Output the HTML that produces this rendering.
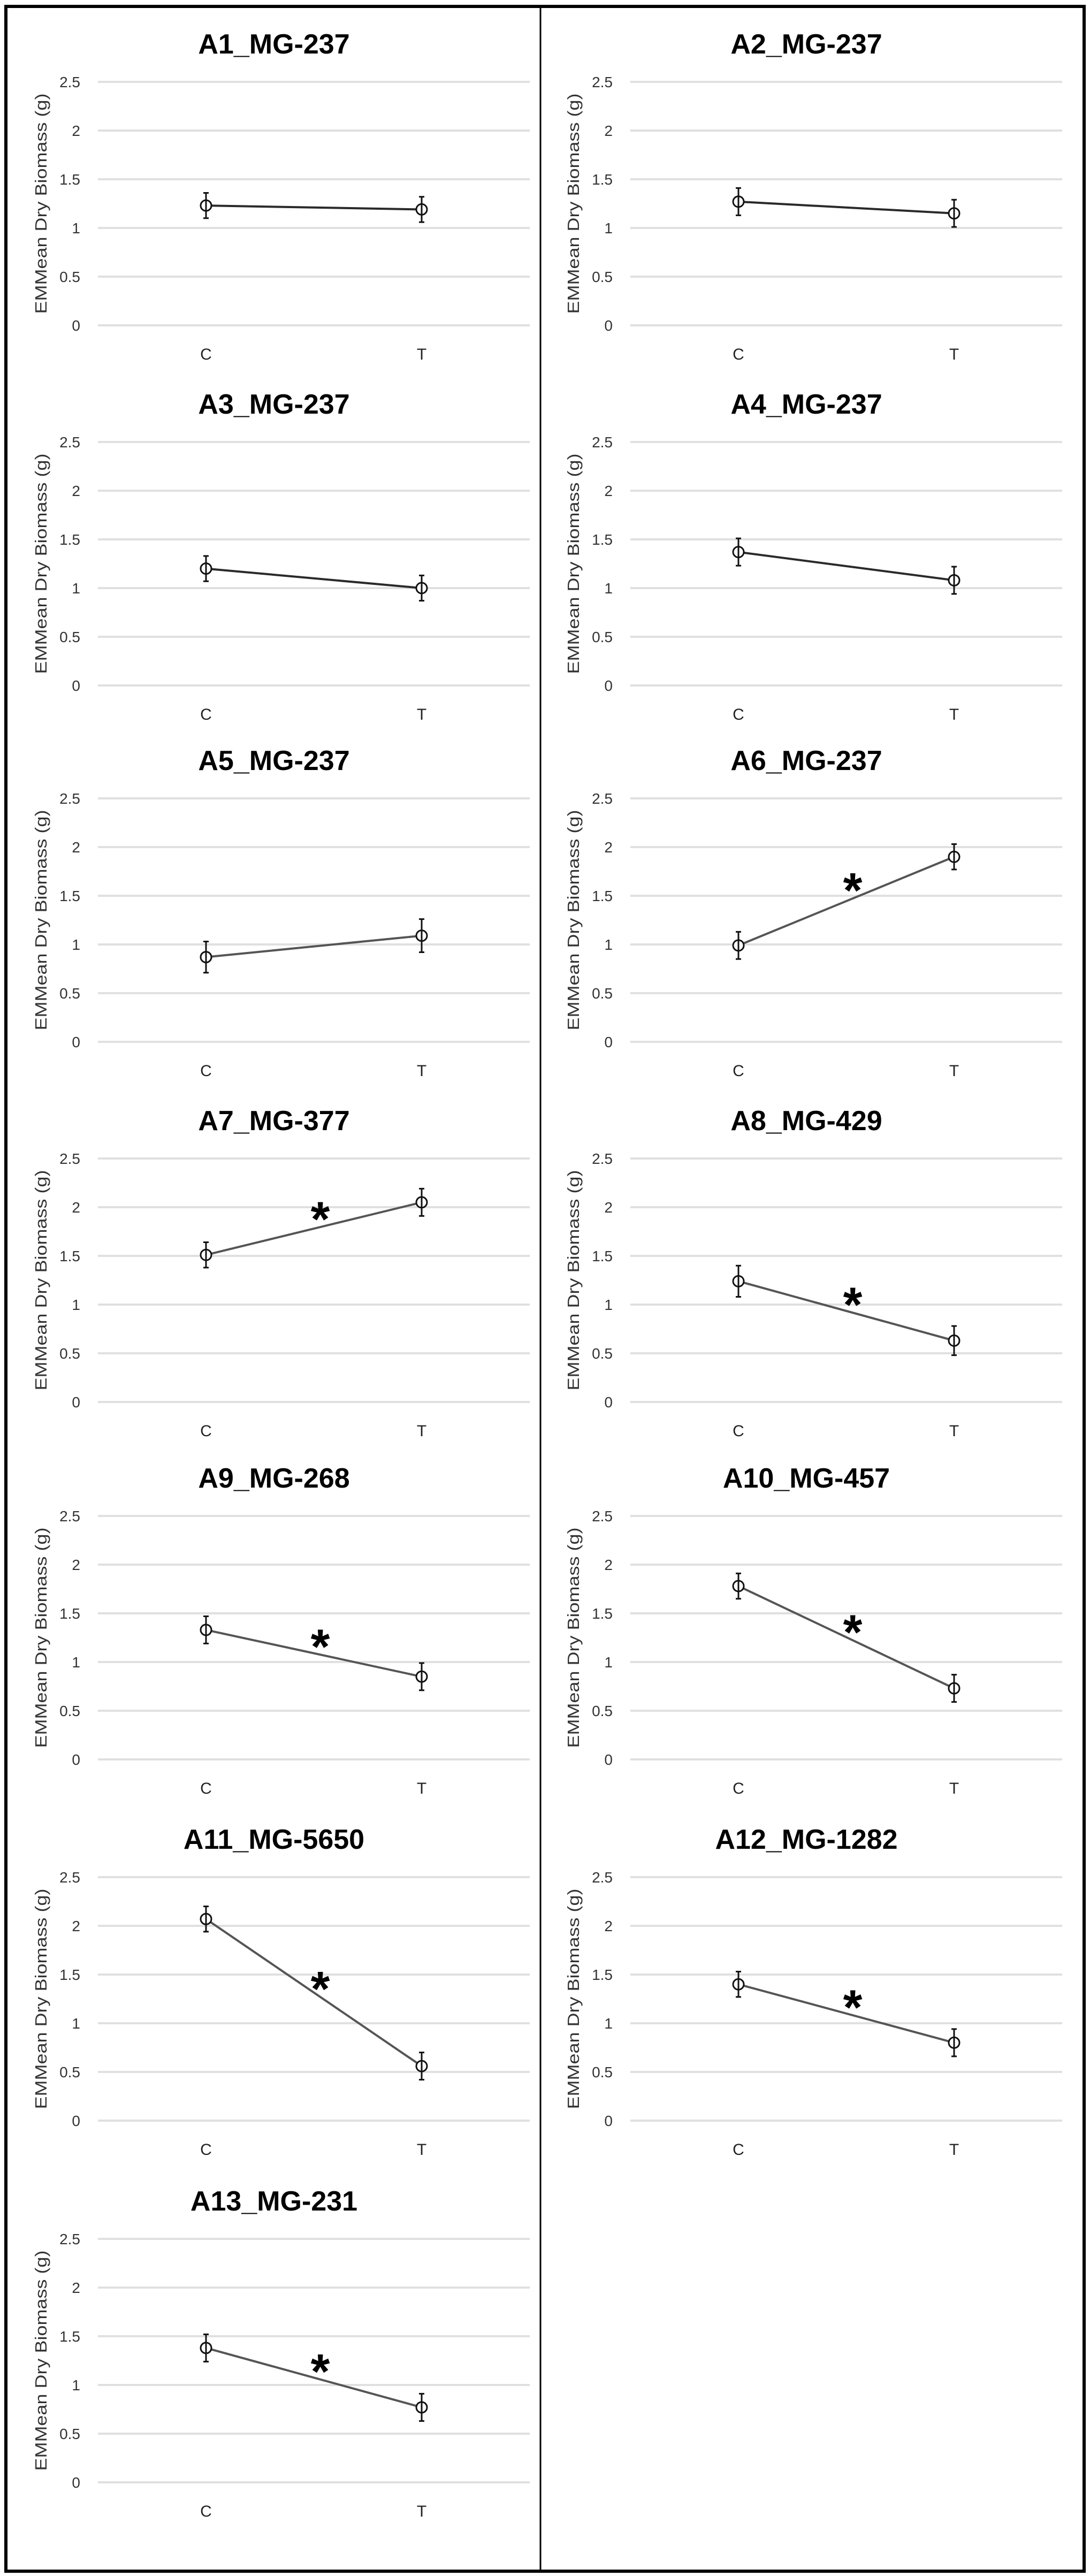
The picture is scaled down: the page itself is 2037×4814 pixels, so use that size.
<!DOCTYPE html>
<html><head><meta charset="utf-8"><style>
html,body{margin:0;padding:0;background:#fff;}
svg{display:block;}
</style></head><body>
<svg id="fig" width="2037" height="4814" viewBox="0 0 2037 4814" xmlns="http://www.w3.org/2000/svg" font-family="'Liberation Sans', sans-serif">
<rect x="11" y="12" width="2015" height="4793" fill="#fff" stroke="#000" stroke-width="6"/>
<line x1="1010" y1="12" x2="1010" y2="4805" stroke="#000" stroke-width="3"/>
<g id="panels"></g>
</svg>
<script>
const titles = ["A1_MG-237","A2_MG-237","A3_MG-237","A4_MG-237","A5_MG-237","A6_MG-237","A7_MG-377","A8_MG-429","A9_MG-268","A10_MG-457","A11_MG-5650","A12_MG-1282","A13_MG-231"];
const categories = ["C","T"];
const valuesC = [1.23,1.27,1.20,1.37,0.87,0.99,1.51,1.24,1.33,1.78,2.07,1.40,1.38];
const valuesT = [1.19,1.15,1.00,1.08,1.09,1.90,2.05,0.63,0.85,0.73,0.56,0.80,0.77];
const errC = [0.13,0.14,0.13,0.14,0.16,0.14,0.13,0.16,0.14,0.13,0.13,0.13,0.14];
const errT = [0.13,0.14,0.13,0.14,0.17,0.13,0.14,0.15,0.14,0.14,0.14,0.14,0.14];
const significant = [false,false,false,false,false,true,true,true,true,true,true,true,true];
const tickValues = [0,0.5,1,1.5,2,2.5];
const tickLabels = ["0","0.5","1","1.5","2","2.5"];

const NS = "http://www.w3.org/2000/svg";
const root = document.getElementById("panels");
const rowZero = [608,1281,1947,2620,3288,3963,4639];
const unitPx = 182;
function mk(tag, attrs, parent){
  const e = document.createElementNS(NS, tag);
  for (const k in attrs) e.setAttribute(k, attrs[k]);
  parent.appendChild(e);
  return e;
}
titles.forEach((t, i) => {
  const col = i % 2, row = Math.floor(i / 2);
  const ox = col === 0 ? 0 : 995;
  const zero = rowZero[row];
  const yS = v => zero - v * unitPx;
  const xS = c => ox + (c === 0 ? 385 : 788);
  const g = mk("g", {}, root);
  
  
  const title = mk("text", {x: ox + 512, y: yS(2.5) - 53, "text-anchor": "middle", "font-size": 52, "font-weight": "bold", fill: "#000"}, g);
  title.textContent = t;
  
  
  tickValues.forEach((v, k) => {
    const gl = mk("line", {x1: ox + 183, x2: ox + 990, y1: yS(v), y2: yS(v), stroke: "#e0e0e0", "stroke-width": 4}, g);
    
    
    const tl = mk("text", {x: ox + 150, y: yS(v) + 10, "text-anchor": "end", "font-size": 28, fill: "#333"}, g);
    tl.textContent = tickLabels[k];
    
    
  });
  const cy = yS(1.25);
  const yt = mk("text", {x: 0, y: 0, "text-anchor": "middle", "font-size": 31, fill: "#333", transform: "translate(" + (ox + 87) + "," + cy + ") rotate(-90)", textLength: 412, lengthAdjust: "spacingAndGlyphs"}, g);
  yt.textContent = "EMMean Dry Biomass (g)";
  
  
  categories.forEach((c, k) => {
    const xl = mk("text", {x: xS(k), y: zero + 64, "text-anchor": "middle", "font-size": 30, fill: "#222"}, g);
    xl.textContent = c;
    
    
  });
  const col2 = i < 4 ? "#2a2a2a" : "#555";
  const ln = mk("line", {x1: xS(0), y1: yS(valuesC[i]), x2: xS(1), y2: yS(valuesT[i]), stroke: col2, "stroke-width": 4}, g);
  
  
  [[valuesC[i], errC[i]], [valuesT[i], errT[i]]].forEach((p, k) => {
    const x = xS(k);
    const eb = mk("path", {d: "M" + x + "," + yS(p[0] + p[1]) + "V" + yS(p[0] - p[1]) + "M" + (x - 5) + "," + yS(p[0] + p[1]) + "h10M" + (x - 5) + "," + yS(p[0] - p[1]) + "h10", stroke: "#111", "stroke-width": 3, fill: "none"}, g);
    
    
    const m = mk("circle", {cx: x, cy: yS(p[0]), r: 10, fill: "#fff", stroke: "#111", "stroke-width": 3}, g);
    
    
    const eb2 = mk("line", {x1: x, x2: x, y1: yS(p[0]) - 10, y2: yS(p[0]) + 10, stroke: "#111", "stroke-width": 3}, g);
    
    
  });
  if (significant[i]) {
    const f = 0.53;
    const ax = xS(0) + f * (xS(1) - xS(0));
    const av = valuesC[i] + f * (valuesT[i] - valuesC[i]) + 0.15;
    const s = mk("text", {x: ax, y: yS(av) + 44, "text-anchor": "middle", "font-size": 92, "font-weight": "bold", fill: "#000"}, g);
    s.textContent = "*";
    
    
  }
});
</script>
</body></html>
